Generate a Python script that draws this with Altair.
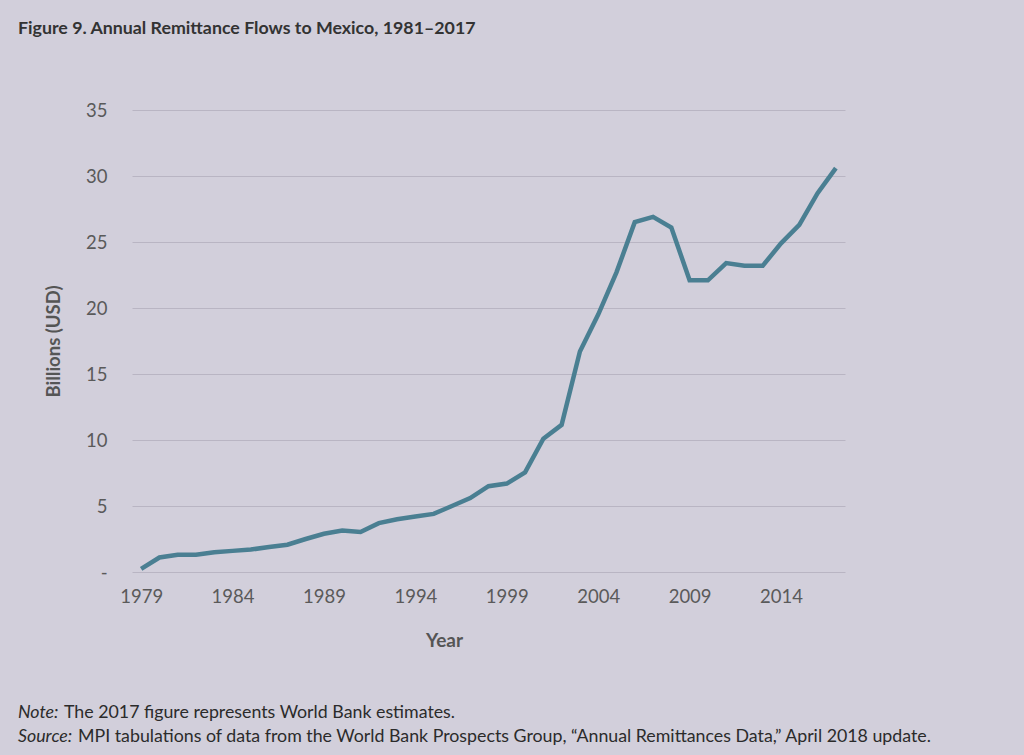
import altair as alt
import pandas as pd

years = list(range(1979, 2018))
remittances = [0.23, 1.1, 1.3, 1.3, 1.5, 1.6, 1.7, 1.9, 2.07, 2.5, 2.9, 3.15, 3.03,
               3.7, 4.0, 4.2, 4.4, 5.0, 5.6, 6.5, 6.7, 7.55, 10.1, 11.15, 16.7, 19.5,
               22.7, 26.5, 26.9, 26.1, 22.1, 22.1, 23.4, 23.2, 23.2, 24.9, 26.3, 28.7, 30.6]
x_ticks = [1979, 1984, 1989, 1994, 1999, 2004, 2009, 2014]
y_ticks = [0, 5, 10, 15, 20, 25, 30, 35]

title_text = "Figure 9. Annual Remittance Flows to Mexico, 1981\u20132017"
note_label = "Note:"
note_text = "The 2017 figure represents World Bank estimates."
source_label = "Source:"
source_text = "MPI tabulations of data from the World Bank Prospects Group, \u201cAnnual Remittances Data,\u201d April 2018 update."

df = pd.DataFrame({"Year": years, "Value": remittances})

BG = "#d2cfdb"
FONT = "Lato"

W, H = 713, 462
PL, PT = 132, 110

line = alt.Chart(df).mark_line(color="#4a7f92", strokeWidth=4.5, strokeJoin="miter").encode(
    x=alt.X("Year:Q",
            scale=alt.Scale(domain=[1978.5, 2017.5], nice=False, zero=False),
            axis=alt.Axis(values=x_ticks, format="d", title="Year", grid=False,
                          domain=False, ticks=False, labelPadding=15,
                          labelFontSize=18.5, labelColor="#5a5a5a", labelFont=FONT,
                          titleFont=FONT, titleFontSize=19, titleFontWeight="bold",
                          titleColor="#555555", titleX=444 - PL, titleY=646 - PT - H,
                          titleBaseline="alphabetic", titleAlign="center")),
    y=alt.Y("Value:Q",
            scale=alt.Scale(domain=[0, 35], nice=False),
            axis=alt.Axis(values=y_ticks, title="Billions (USD)", grid=True,
                          gridColor="#b9b5c3", gridWidth=1.2, domain=False, ticks=False,
                          labelPadding=25, labelFontSize=18.5, labelColor="#5a5a5a",
                          labelFont=FONT,
                          labelExpr="datum.value == 0 ? '-' : datum.label",
                          titleFont=FONT, titleFontSize=18.5, titleFontWeight="bold",
                          titleColor="#555555", titleX=53 - PL, titleY=H / 2,
                          titleBaseline="middle")),
)

def txt(s, x, y, size=17.8, weight="normal", style="normal", color="#2b2b2b"):
    return alt.Chart(pd.DataFrame({"t": [s]})).mark_text(
        align="left", baseline="alphabetic", font=FONT, fontSize=size,
        fontWeight=weight, fontStyle=style, color=color
    ).encode(x=alt.value(x - PL), y=alt.value(y - PT), text="t:N")

title = txt(title_text, 18, 34, size=17.8, weight="bold", color="#333333")
n1 = txt(note_label, 18, 718, style="italic")
n2 = txt(note_text, 64, 718)
s1 = txt(source_label, 18, 742, style="italic")
s2 = txt(source_text, 78, 742)

chart = alt.layer(line, title, n1, n2, s1, s2).properties(
    width=W, height=H,
    background=BG,
    padding={"left": PL, "top": PT, "right": 1024 - PL - W, "bottom": 755 - PT - H},
    autosize=alt.AutoSizeParams(type="none"),
).configure_view(stroke=None)

chart.save("out.html", embed_options={"renderer": "svg", "actions": False})
